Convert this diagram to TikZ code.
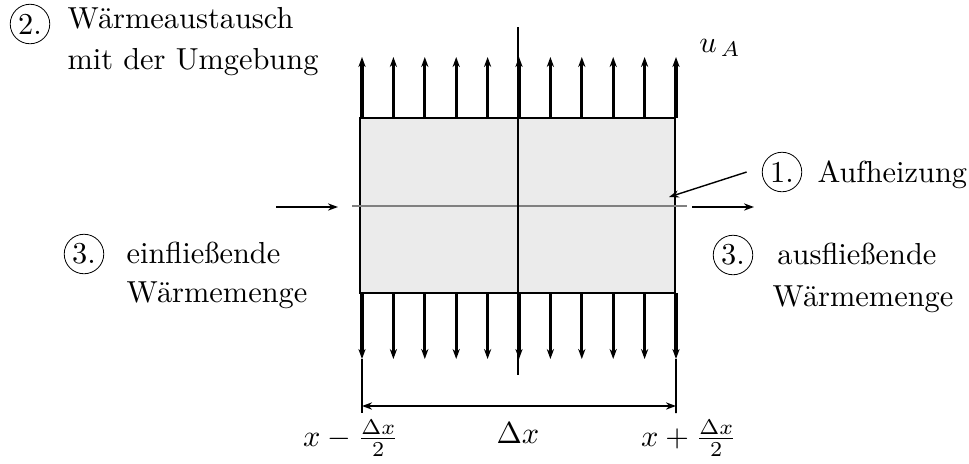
\documentclass[tikz,border=0pt]{standalone}
\usepackage{amsmath,amssymb}
\usepackage{tikz}
\usetikzlibrary{arrows.meta,positioning,calc}

\begin{document}
\begin{tikzpicture}[x=0.5pt, y=-0.5pt, every node/.style={scale=1.52},
    num/.style={draw, circle, inner sep=0pt, minimum size=13pt},
    flux/.style={-{Stealth[length=5pt,width=3.6pt]}, line width=1.6pt},
    flow/.style={-{Stealth[length=5pt,width=3.6pt]}, line width=1.4pt},
    dim/.style={line width=0.9pt}]
      \useasboundingbox (0,0) rectangle (969,463);
      % element
      \draw[line width=1pt, fill=black!8] (360,118) rectangle (675,293);
      \draw[gray, line width=0.6pt] (352,206) -- (687,206);
      \coordinate (mtop) at (518,27);
      \coordinate (mbot) at (518,375);
      \draw[line width=0.9pt] (mtop) -- (mbot);
      % heat exchange with the surroundings
      \foreach \i in {0,...,10} {
        \coordinate (up\i) at ({362+31.4*\i},118);
        \coordinate (uptip\i) at ({362+31.4*\i},57);
        \coordinate (dn\i) at ({362+31.4*\i},293);
        \coordinate (dntip\i) at ({362+31.4*\i},359);
        \draw[flux] (up\i) -- (uptip\i);
        \draw[flux] (dn\i) -- (dntip\i);
      }
      \node (uA) at (720,48) {$u_{\,A}$};
      % inflow / outflow
      \coordinate (inL) at (276,207);
      \coordinate (inR) at (338,207);
      \coordinate (outL) at (692,207);
      \coordinate (outR) at (754,207);
      \draw[flow] (inL) -- (inR);
      \draw[flow] (outL) -- (outR);
      % dimension
      \coordinate (dl) at (362,413);
      \coordinate (dr) at (676,413);
      \draw[dim] (dntip0) -- (dl);
      \draw[dim] (dntip10) -- (dr);
      \draw[dim, {Stealth[length=5pt,width=3.6pt]}-{Stealth[length=5pt,width=3.6pt]}] ($(dl)+(0,-7)$) -- ($(dr)+(0,-7)$);
      \node[inner sep=0pt] (xminus) at (351,438) {$x - \frac{\Delta x}{2}$};
      \node[inner sep=0pt] (dx) at (518,433) {$\Delta x$};
      \node[inner sep=0pt] (xplus) at (689,438) {$x + \frac{\Delta x}{2}$};
      % labels
      \node[num] (n2) at (30,24) {2.};
      \node[anchor=north west, align=left, inner sep=0pt] (exch) at (67,7) {W\"armeaustausch\\[1.5pt]mit der Umgebung};
      \node[num] (n1) at (782,172) {1.};
      \node[anchor=base west, inner sep=0pt] (heat) at (817,182) {Aufheizung};
      \coordinate (hit) at (669,197);
      \draw[-{Stealth[length=5pt,width=3.6pt]}, line width=0.7pt] ($(n1.west)+(-15,0)$) -- (hit);
      \node[num] (n3l) at (84,254) {3.};
      \node[anchor=north west, align=left, inner sep=0pt] (inflow) at (126,241) {einflie\ss ende\\[1pt]W\"armemenge};
      \node[num] (n3r) at (733,255) {3.};
      \node[anchor=north west, align=left, inner sep=0pt] (outflow) at (772,242) {\hspace*{1.6pt}ausflie\ss ende\\[2pt]W\"armemenge};
\end{tikzpicture}
\end{document}
